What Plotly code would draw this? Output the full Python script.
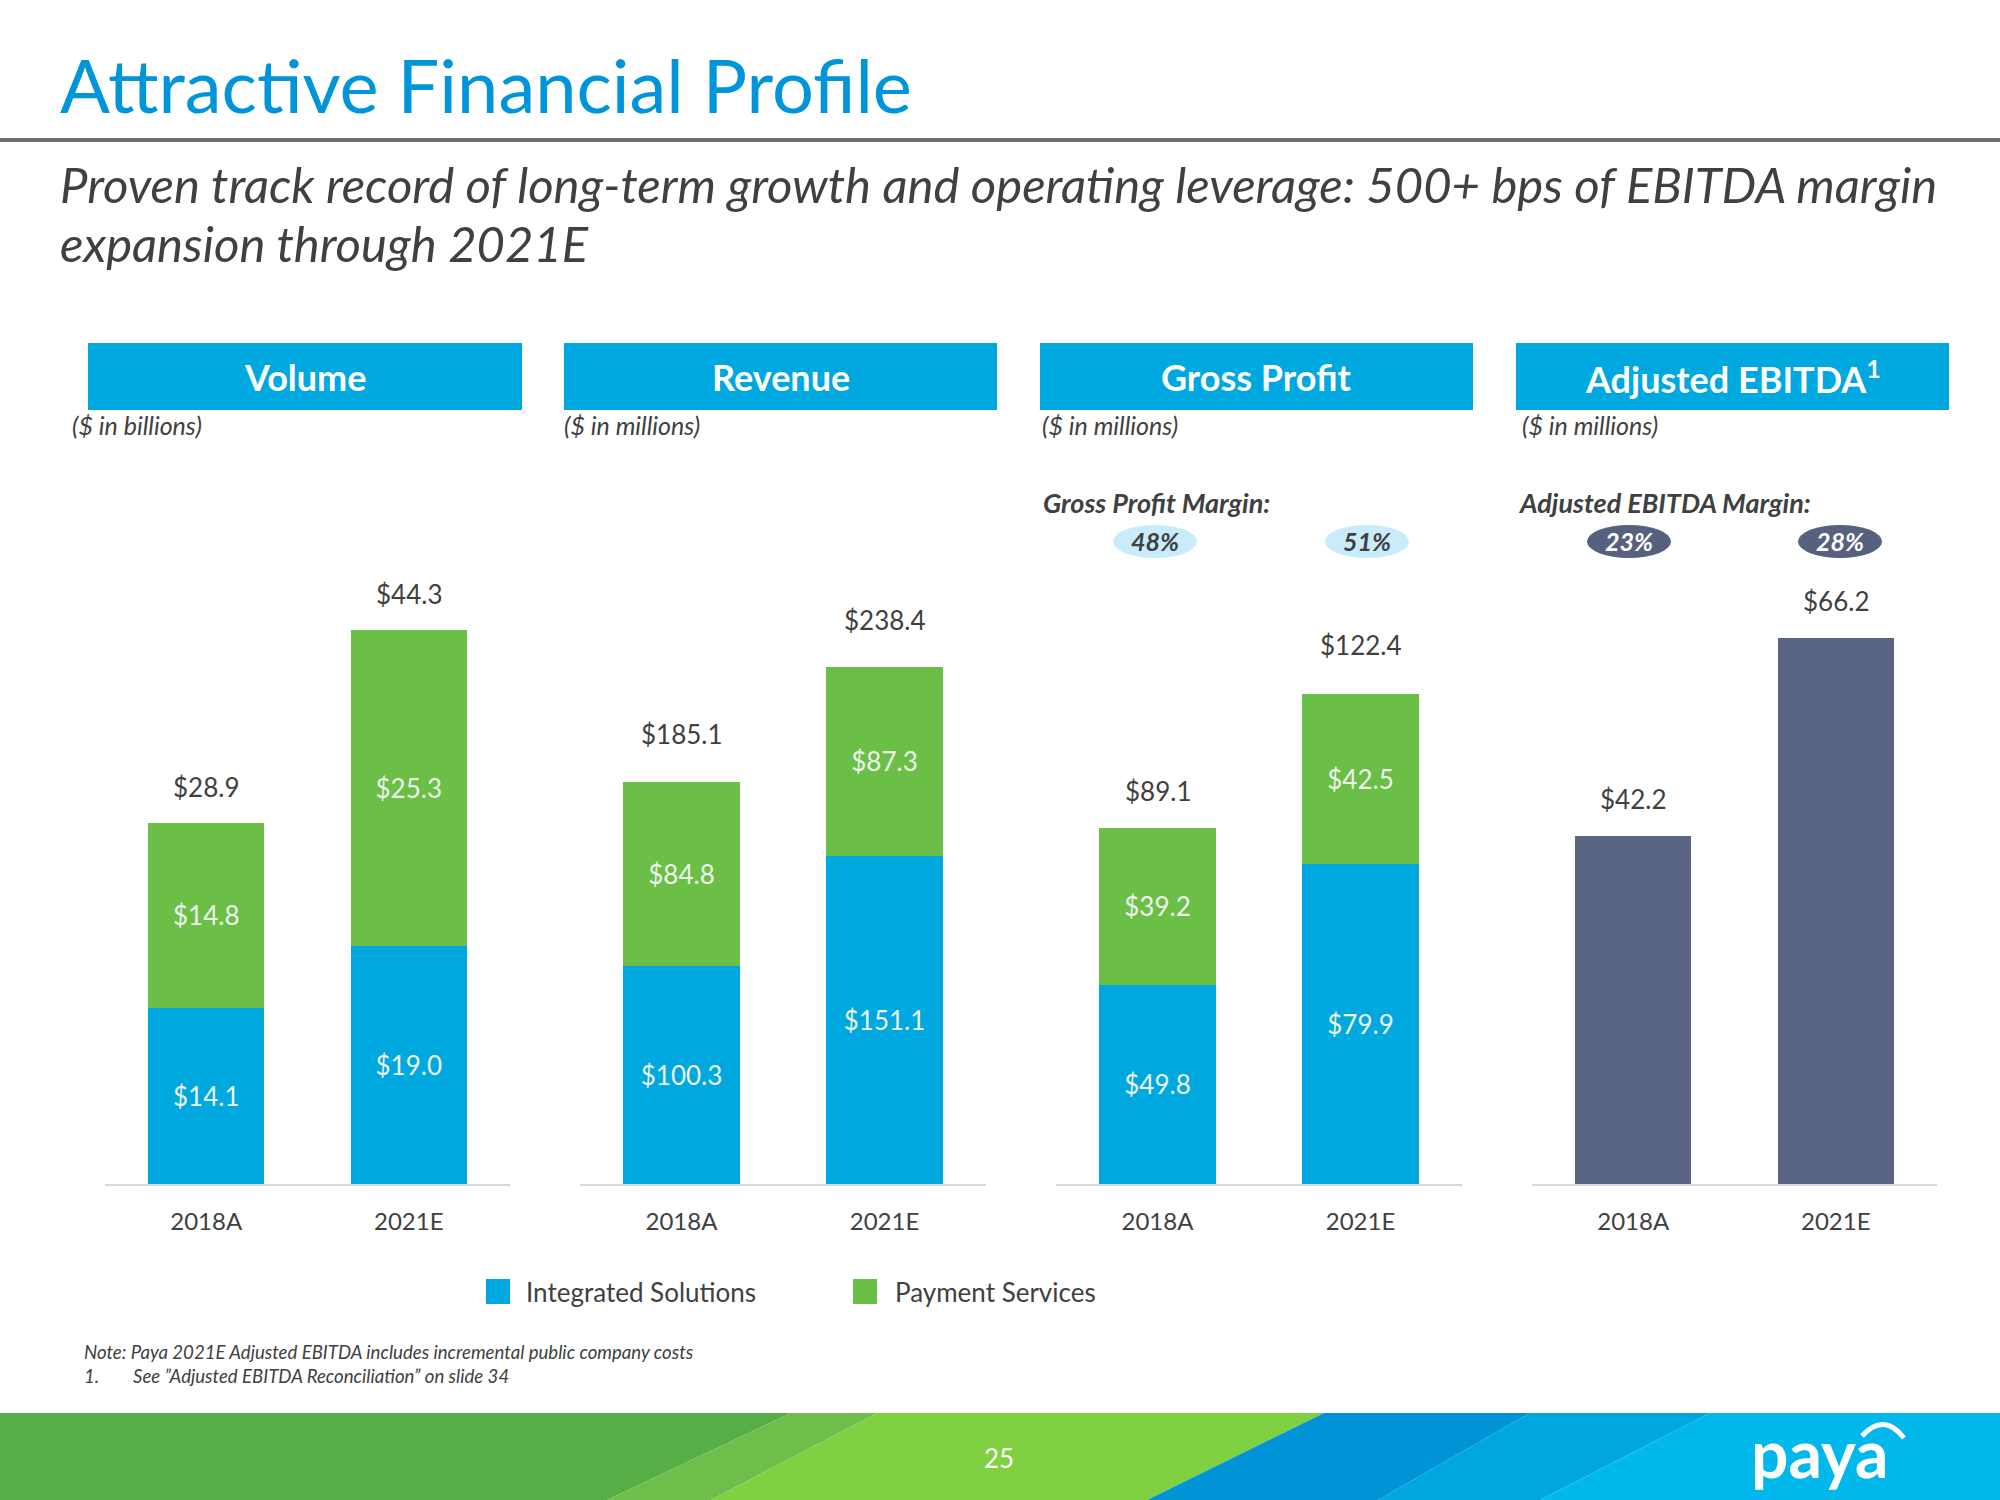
import plotly.graph_objects as go

# ---------------- data ----------------
categories = ["2018A", "2021E"]

volume_integrated = [14.1, 19.0]
volume_payment = [14.8, 25.3]
volume_total = [28.9, 44.3]

revenue_integrated = [100.3, 151.1]
revenue_payment = [84.8, 87.3]
revenue_total = [185.1, 238.4]

gp_integrated = [49.8, 79.9]
gp_payment = [39.2, 42.5]
gp_total = [89.1, 122.4]

ebitda_total = [42.2, 66.2]

gp_margin = ["48%", "51%"]
ebitda_margin = ["23%", "28%"]

panel_titles = ["Volume", "Revenue", "Gross Profit", "Adjusted EBITDA<sup>1</sup>"]
panel_units = ["($ in billions)", "($ in millions)", "($ in millions)", "($ in millions)"]
series_names = ["Integrated Solutions", "Payment Services"]

# ---------------- style ----------------
W, H = 2000, 1500
BLUE = "#00A8E0"
GREEN = "#6BBF47"
SLATE = "#5A6483"
TITLE_BLUE = "#0095D9"
DARK = "#404040"
SEG_TXT = "#EDF4EC"
FONT = "Lato"


def px(x):
    return x / W


def py(y):
    return 1 - y / H


baseline_px, top_px = 1184, 400
ydom = [py(baseline_px), py(top_px)]
x_domains = [(105, 510), (580, 986), (1056, 1462), (1532, 1937)]
y_ranges = [62.7, 361.3, 196.0, 95.1]
label_gaps = [[36, 36], [48, 47], [37, 49], [37, 37]]
box_x = [(88, 522), (564, 997), (1040, 1473), (1516, 1949)]
unit_x = [70, 562, 1040, 1520]

fig = go.Figure()


def fmt(vals):
    return [f"${v:.1f}" for v in vals]


def note(x, y, text, size, color=DARK, xanchor="left", **kw):
    return dict(x=px(x), y=py(y), xref="paper", yref="paper", text=text, showarrow=False,
                xanchor=xanchor, yanchor="middle", font=dict(family=FONT, size=size, color=color), **kw)


stacked = [
    (volume_integrated, volume_payment),
    (revenue_integrated, revenue_payment),
    (gp_integrated, gp_payment),
]
for i, (a, b) in enumerate(stacked):
    ax = "" if i == 0 else str(i + 1)
    for vals, color, name in [(a, BLUE, series_names[0]), (b, GREEN, series_names[1])]:
        fig.add_trace(go.Bar(
            x=categories, y=vals, name=name, marker_color=color, marker_line_width=0,
            width=0.573, text=fmt(vals), textposition="inside", insidetextanchor="middle",
            textangle=0, textfont=dict(family=FONT, size=26, color=SEG_TXT),
            xaxis="x" + ax, yaxis="y" + ax, showlegend=False, hoverinfo="skip",
        ))

fig.add_trace(go.Bar(
    x=categories, y=ebitda_total, marker_color=SLATE, marker_line_width=0, width=0.573,
    xaxis="x4", yaxis="y4", showlegend=False, hoverinfo="skip",
))

totals = [volume_total, revenue_total, gp_total, ebitda_total]
annotations = []
shapes = []
layout_axes = {}
for i in range(4):
    ax = "" if i == 0 else str(i + 1)
    x0, x1 = x_domains[i]
    layout_axes["xaxis" + ax] = dict(
        domain=[px(x0), px(x1)], type="category", range=[-0.5, 1.5],
        showline=True, linecolor="#D9D9D9", linewidth=2, showgrid=False, zeroline=False,
        ticks="", tickfont=dict(family=FONT, size=24, color=DARK), ticklabelstandoff=15,
        anchor="y" + ax, fixedrange=True,
    )
    layout_axes["yaxis" + ax] = dict(
        domain=ydom, range=[0, y_ranges[i]], visible=False, anchor="x" + ax, fixedrange=True,
    )
    for j, cat in enumerate(categories):
        annotations.append(dict(
            x=cat, y=totals[i][j], xref="x" + ax, yref="y" + ax, text=f"${totals[i][j]:.1f}",
            showarrow=False, xanchor="center", yanchor="middle", yshift=label_gaps[i][j],
            font=dict(family=FONT, size=26, color=DARK),
        ))
    # header box
    bx0, bx1 = box_x[i]
    shapes.append(dict(type="rect", xref="paper", yref="paper", x0=px(bx0), x1=px(bx1),
                       y0=py(410), y1=py(343), fillcolor=BLUE, line_width=0, layer="below"))
    annotations.append(note((bx0 + bx1) / 2, 377, f"<b>{panel_titles[i]}</b>", 36,
                            color="white", xanchor="center"))
    annotations.append(note(unit_x[i], 425, f"<i>{panel_units[i]}</i>", 25))

# margin labels and pills
margin_sets = [
    ("Gross Profit Margin:", 1041, gp_margin, [1155, 1367], "#C8ECFA", DARK),
    ("Adjusted EBITDA Margin:", 1516, ebitda_margin, [1629, 1840], "#56607F", "white"),
]
for label, lx, vals, centers, fill, tcol in margin_sets:
    annotations.append(note(lx, 503, f"<b><i>{label}</i></b>", 27))
    for v, cx in zip(vals, centers):
        shapes.append(dict(type="circle", xref="paper", yref="paper",
                           x0=px(cx - 42), x1=px(cx + 42), y0=py(558), y1=py(525),
                           fillcolor=fill, line_width=0))
        annotations.append(note(cx, 541, f"<b><i>{v}</i></b>", 25, color=tcol, xanchor="center"))

# legend (manual)
for (sx, tx), color, name in [((486, 524), BLUE, series_names[0]), ((853, 893), GREEN, series_names[1])]:
    shapes.append(dict(type="rect", xref="paper", yref="paper", x0=px(sx), x1=px(sx + 24),
                       y0=py(1304), y1=py(1279), fillcolor=color, line_width=0))
    annotations.append(note(tx, 1292, name, 26))

# title, rule, subtitle
annotations.append(note(58, 84, "Attractive Financial Profile", 74, color=TITLE_BLUE))
shapes.append(dict(type="line", xref="paper", yref="paper", x0=0, x1=1, y0=py(140), y1=py(140),
                   line=dict(color="#6E6E6E", width=4)))
annotations.append(note(58, 184, "<i>Proven track record of long-term growth and operating leverage: "
                                 "500+ bps of EBITDA margin</i>", 49))
annotations.append(note(58, 243, "<i>expansion through 2021E</i>", 49))

# notes
annotations.append(note(82, 1352, "<i>Note: Paya 2021E Adjusted EBITDA includes incremental "
                                  "public company costs</i>", 18.6))
annotations.append(note(82, 1376, "<i>1.</i>", 18.6))
annotations.append(note(131, 1376, "<i>See \u201dAdjusted EBITDA Reconciliation\u201d on slide 34</i>", 18.6))

# footer band
top, bot = 1413, 1500
bands = [
    ((0, 791), (607, 0), "#57AD46"),
    ((791, 877), (711, 607), "#6DBE4B"),
    ((877, 1324), (1147, 711), "#80D141"),
    ((1324, 1530), (1378, 1147), "#0094D7"),
    ((1530, 1710), (1540, 1378), "#00A6DF"),
    ((1710, 2000), (2000, 1540), "#00B8EC"),
]
for (t0, t1), (b1, b0), col in bands:
    path = (f"M {px(t0)},{py(top)} L {px(t1)},{py(top)} L {px(b1)},{py(bot)} "
            f"L {px(b0)},{py(bot)} Z")
    shapes.append(dict(type="path", xref="paper", yref="paper", path=path,
                       fillcolor=col, line_width=0, layer="below"))
annotations.append(note(999, 1458, "25", 26, color="white", xanchor="center"))
annotations.append(note(1820, 1452, "<b>paya</b>", 66, color="white", xanchor="center"))
shapes.append(dict(type="path", xref="paper", yref="paper",
                   path=f"M {px(1862)},{py(1436)} Q {px(1884)},{py(1412)} {px(1904)},{py(1438)}",
                   line=dict(color="white", width=5)))

fig.update_layout(
    width=W, height=H, margin=dict(l=0, r=0, t=0, b=0),
    paper_bgcolor="white", plot_bgcolor="rgba(0,0,0,0)",
    barmode="stack", showlegend=False,
    annotations=annotations, shapes=shapes,
    font=dict(family=FONT),
    **layout_axes,
)

fig.write_html("out.html", config={"displayModeBar": False})
